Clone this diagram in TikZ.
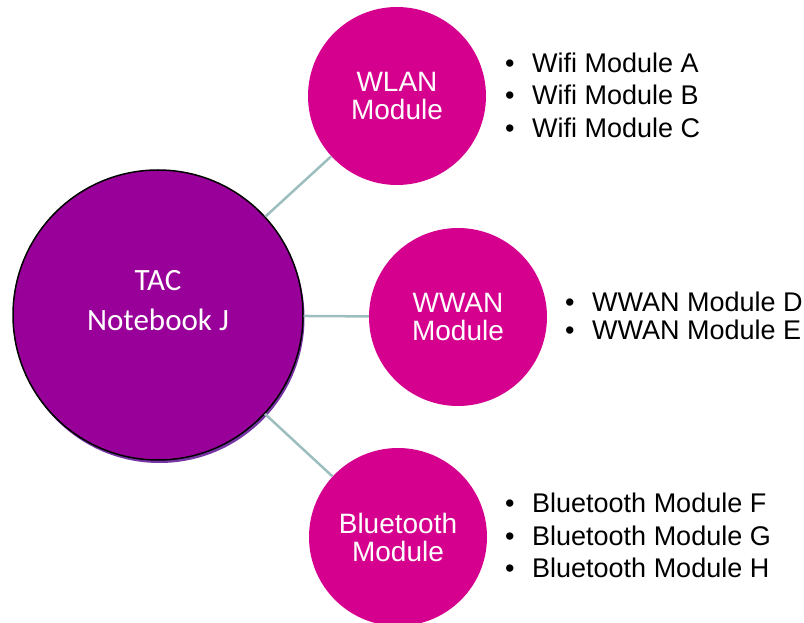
\documentclass[tikz,border=0pt]{standalone}
\usepackage{fontspec}
\setmainfont{Liberation Sans}
\newfontfamily\calibri{Carlito}
\usepackage{tikz}
\usetikzlibrary{shadows}
\definecolor{hubpurple}{RGB}{153,0,153}
\definecolor{hubshadow}{RGB}{118,52,165}
\definecolor{modpink}{RGB}{214,0,143}
\definecolor{linkgray}{RGB}{157,190,190}
\tikzstyle{hub} = [draw=black, line width=1.5pt, circle, fill=hubpurple,
    minimum size=290pt, inner sep=0pt]
\tikzstyle{module} = [circle, fill=modpink, minimum size=178pt, inner sep=0pt,
    text=white, align=center, font=\fontsize{28}{28}\selectfont]
\tikzstyle{items} = [anchor=north west, inner sep=0pt, align=left]
\tikzstyle{link} = [draw=linkgray, line width=2.5pt]
\newcommand{\bulletitem}[1]{\makebox[27pt][l]{\textbullet}#1}

\begin{document}
\begin{tikzpicture}[x=1pt, y=-1pt]
        \useasboundingbox (0,0) rectangle (804,623);

        \node[hub, name=tac, drop shadow={shadow xshift=1.5pt, shadow yshift=-3pt,
            fill=hubshadow, opacity=1}] at (158,315) {};
        \node[anchor=north, align=center, inner sep=0pt, text=white,
            font=\calibri\fontsize{31}{40}\selectfont, name=tac_text] at (158,270) {TAC\\Notebook J};

        \node[module, name=wlan] at (397,96) {WLAN\\Module};
        \node[module, name=wwan] at (458,317) {WWAN\\Module};
        \node[module, name=bt] at (398,537) {Bluetooth\\Module};

        \draw[link] (tac) -- (wlan);
        \draw[link] (tac) -- (wwan);
        \draw[link] (tac) -- (bt);

        \node[items, font=\fontsize{27}{32.5}\selectfont, name=wlan_list] at (505,52.7)
            {\bulletitem{Wifi Module A}\\\bulletitem{Wifi Module B}\\\bulletitem{Wifi Module C}};
        \node[items, font=\fontsize{27}{28}\selectfont, name=wwan_list] at (565,292.2)
            {\bulletitem{WWAN Module D}\\\bulletitem{WWAN Module E}};
        \node[items, font=\fontsize{27}{32.5}\selectfont, name=bt_list] at (505,493.2)
            {\bulletitem{Bluetooth Module F}\\\bulletitem{Bluetooth Module G}\\\bulletitem{Bluetooth Module H}};
    \end{tikzpicture}
\end{document}
